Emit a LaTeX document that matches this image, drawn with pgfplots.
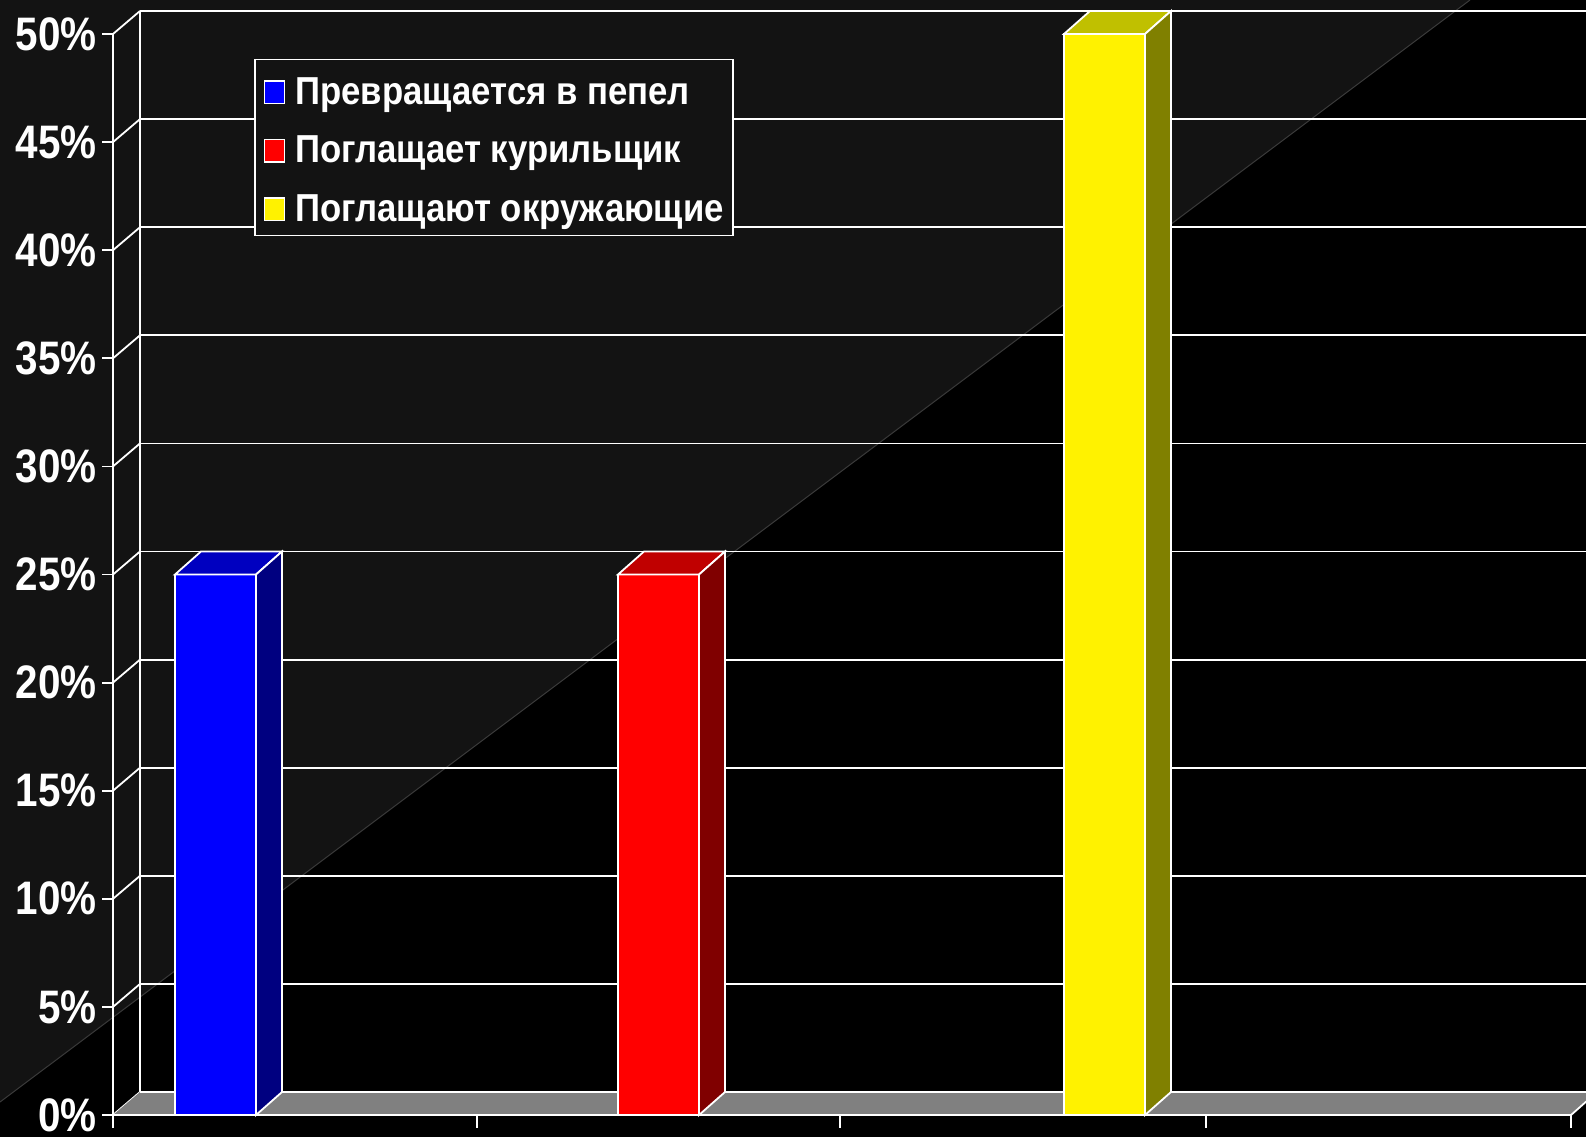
\documentclass[border=0pt]{standalone}
\usepackage{pgfplots}
\pgfplotsset{compat=1.18}
\usepackage{fontspec}
\newfontfamily\nar{Liberation Sans Bold}[FakeStretch=0.86]
\newfontfamily\narl{Liberation Sans Bold}[FakeStretch=0.89]
\definecolor{bgg}{HTML}{131313}
\definecolor{diag}{HTML}{3A3A3A}
\definecolor{floorc}{HTML}{808080}
\definecolor{btop}{HTML}{0000C0}
\definecolor{bside}{HTML}{000080}
\definecolor{rtop}{HTML}{C00000}
\definecolor{rside}{HTML}{800000}
\definecolor{ytop}{HTML}{C0C000}
\definecolor{yside}{HTML}{808000}
\begin{document}
\begin{tikzpicture}
\begin{axis}[
  width=1586pt, height=1137pt, scale only axis,
  xmin=0, xmax=1586, ymin=-1.0176, ymax=51.573,
  hide axis, clip=true,
  legend cell align=left,
  legend style={at={(axis cs:254,48.86)}, anchor=north west,
    fill=bgg, draw=white, line width=1.5pt, text=white,
    font=\narl\fontsize{39}{40}\selectfont,
    inner xsep=9pt, inner ysep=9pt, row sep=17.5pt,
    nodes={inner sep=0pt, text depth=5pt, text height=36pt}},
]
% background
\fill[black] (axis cs:0,-1.0176) rectangle (axis cs:1586,51.573);
\fill[bgg] (axis cs:0,51.573) -- (axis cs:1470,51.573) -- (axis cs:0,0.60) -- cycle;
\draw[diag, line width=1pt] (axis cs:1470,51.573) -- (axis cs:0,0.60);
% back wall grid and left wall
\pgfplotsinvokeforeach{0,5,...,50}{
  \draw[white, line width=1.8pt] (axis cs:140,#1+1.064) -- (axis cs:1600,#1+1.064);
  \draw[white, line width=1.8pt] (axis cs:113,#1) -- (axis cs:140,#1+1.064);
  \draw[white, line width=1.8pt] (axis cs:102,#1) -- (axis cs:113,#1);
}
\draw[white, line width=1.8pt] (axis cs:140,1.064) -- (axis cs:140,51.064);
% floor
\addplot[fill=floorc, draw=none, forget plot] coordinates {(113,0) (1571,0) (1597,1.064) (140,1.064)} -- cycle;
\draw[white, line width=1.8pt] (axis cs:140,1.064) -- (axis cs:1600,1.064);
\draw[white, line width=1.8pt] (axis cs:113,0) -- (axis cs:1571,0) -- (axis cs:1597,1.064);
\draw[white, line width=1.8pt] (axis cs:113,-0.6) -- (axis cs:113,50);
\pgfplotsinvokeforeach{113,477,840,1206,1571}{
  \draw[white, line width=1.8pt] (axis cs:#1,0) -- (axis cs:#1,-0.6);
}
% bars
\addplot[ybar, bar width=81, fill=blue, draw=white, line width=1.8pt,
  legend image code/.code={\draw[fill=blue, draw=white, line width=1.5pt] (0pt,-14.5pt) rectangle (20pt,8pt); \path (30pt,0pt);}]
  coordinates {(215.5,25)};
\addplot[ybar, bar width=81, fill=red, draw=white, line width=1.8pt,
  legend image code/.code={\draw[fill=red, draw=white, line width=1.5pt] (0pt,-14.5pt) rectangle (20pt,8pt); \path (30pt,0pt);}]
  coordinates {(658.5,25)};
\addplot[ybar, bar width=81, fill=yellow, draw=white, line width=1.8pt,
  legend image code/.code={\draw[fill=yellow, draw=white, line width=1.5pt] (0pt,-14.5pt) rectangle (20pt,8pt); \path (30pt,0pt);}]
  coordinates {(1104.5,50)};
% 3D faces
\addplot[fill=btop, draw=white, line width=1.8pt, forget plot] coordinates {(175,25) (201,26.064) (282,26.064) (256,25)} -- cycle;
\addplot[fill=bside, draw=white, line width=1.8pt, forget plot] coordinates {(256,0) (256,25) (282,26.064) (282,1.064)} -- cycle;
\addplot[fill=rtop, draw=white, line width=1.8pt, forget plot] coordinates {(618,25) (644,26.064) (725,26.064) (699,25)} -- cycle;
\addplot[fill=rside, draw=white, line width=1.8pt, forget plot] coordinates {(699,0) (699,25) (725,26.064) (725,1.064)} -- cycle;
\addplot[fill=ytop, draw=white, line width=1.8pt, forget plot] coordinates {(1064,50) (1090,51.064) (1171,51.064) (1145,50)} -- cycle;
\addplot[fill=yside, draw=white, line width=1.8pt, forget plot] coordinates {(1145,0) (1145,50) (1171,51.064) (1171,1.064)} -- cycle;
% y labels
\pgfplotsinvokeforeach{0,5,...,50}{
  \node[anchor=east, inner sep=0pt, text=white, font=\nar\fontsize{47}{47}\selectfont] at (axis cs:97,#1) {#1\%};
}
\legend{Превращается в пепел, Поглащает курильщик, Поглащают окружающие}
\end{axis}
\end{tikzpicture}
\end{document}
